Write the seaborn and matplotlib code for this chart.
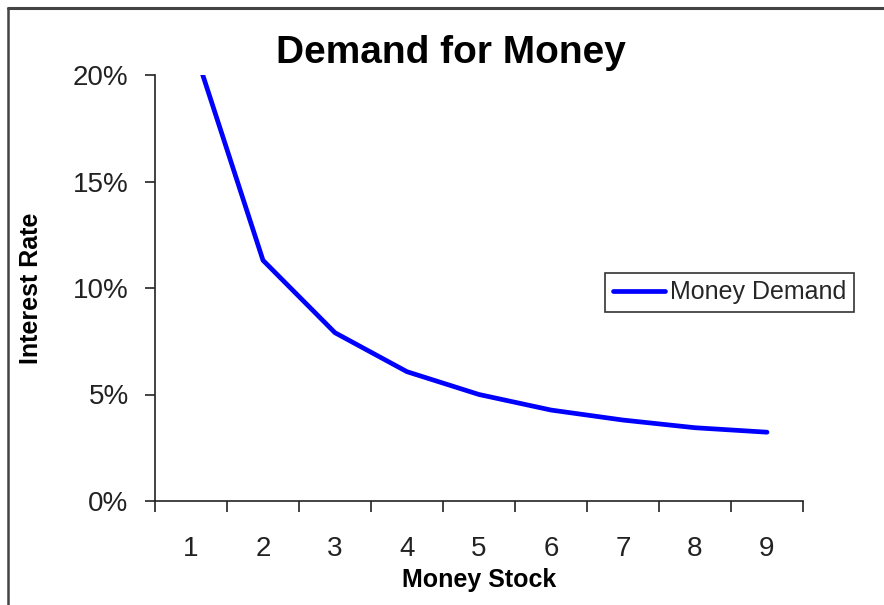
import matplotlib
matplotlib.use("Agg")
import matplotlib.pyplot as plt
import seaborn as sns
import pandas as pd
from matplotlib.ticker import PercentFormatter, FixedLocator
from matplotlib.lines import Line2D

sns.set_theme(style="white")
plt.rcParams['font.family'] = ['Liberation Sans', 'DejaVu Sans']

# data
money_stock = [1, 2, 3, 4, 5, 6, 7, 8, 9]
interest_rate = [0.217, 0.113, 0.079, 0.0607, 0.050, 0.0427, 0.038, 0.0344, 0.0323]
series_name = "Money Demand"

df = pd.DataFrame({"Money Stock": money_stock, "Interest Rate": interest_rate})

fig = plt.figure(figsize=(8.84, 6.05), dpi=100)
ax = fig.add_axes([155 / 884, 104 / 605, 648 / 884, 426 / 605])

sns.lineplot(data=df, x="Money Stock", y="Interest Rate", ax=ax,
             color="#0000ff", linewidth=3.4, label=series_name)

ax.set_xlim(0.5, 9.5)
ax.set_ylim(0, 0.20)
ax.yaxis.set_major_locator(FixedLocator([0, 0.05, 0.10, 0.15, 0.20]))
ax.yaxis.set_major_formatter(PercentFormatter(1, decimals=0))
ax.set_xticks(money_stock)
ax.set_xticklabels([str(v) for v in money_stock])
ax.set_xticks([v - 0.5 for v in money_stock] + [money_stock[-1] + 0.5], minor=True)

ax.tick_params(axis="x", which="major", length=0, pad=25, labelsize=20, labelcolor="#222222")
ax.tick_params(axis="x", which="minor", length=8, width=1.2, color="#222222", direction="out", bottom=True)
ax.tick_params(axis="y", which="major", length=7, width=1.2, color="#222222", direction="out", left=True,
               pad=12, labelsize=20, labelcolor="#222222")

for s in ["top", "right"]:
    ax.spines[s].set_visible(False)
for s in ["left", "bottom"]:
    ax.spines[s].set_color("#222222")
    ax.spines[s].set_linewidth(1.2)

ax.set_xlabel("Money Stock", fontsize=18, fontweight="bold", color="black")
ax.xaxis.set_label_coords(0.5, -0.157)
ax.set_ylabel("Interest Rate", fontsize=18, fontweight="bold", color="black")
ax.yaxis.set_label_coords(-0.173, 0.5)

fig.text(451 / 884, 1 - 53 / 605, "Demand for Money", ha="center", va="center",
         fontsize=28, fontweight="bold", color="black")

leg = ax.legend(loc="upper left", bbox_to_anchor=(605 / 884, 1 - 273 / 605),
                bbox_transform=fig.transFigure, fontsize=18, frameon=True,
                fancybox=False, handlelength=2.1, handletextpad=0.2,
                borderpad=0.3, borderaxespad=0)
leg.get_frame().set_edgecolor("black")
leg.get_frame().set_linewidth(1.2)

# chart area border (top and left visible)
fig.add_artist(Line2D([8 / 884, 1], [1 - 8 / 605, 1 - 8 / 605], transform=fig.transFigure,
                      color="#444444", linewidth=2.2))
fig.add_artist(Line2D([8 / 884, 8 / 884], [0, 1 - 8 / 605], transform=fig.transFigure,
                      color="#444444", linewidth=1.8))

fig.savefig("out.png", dpi=100)
